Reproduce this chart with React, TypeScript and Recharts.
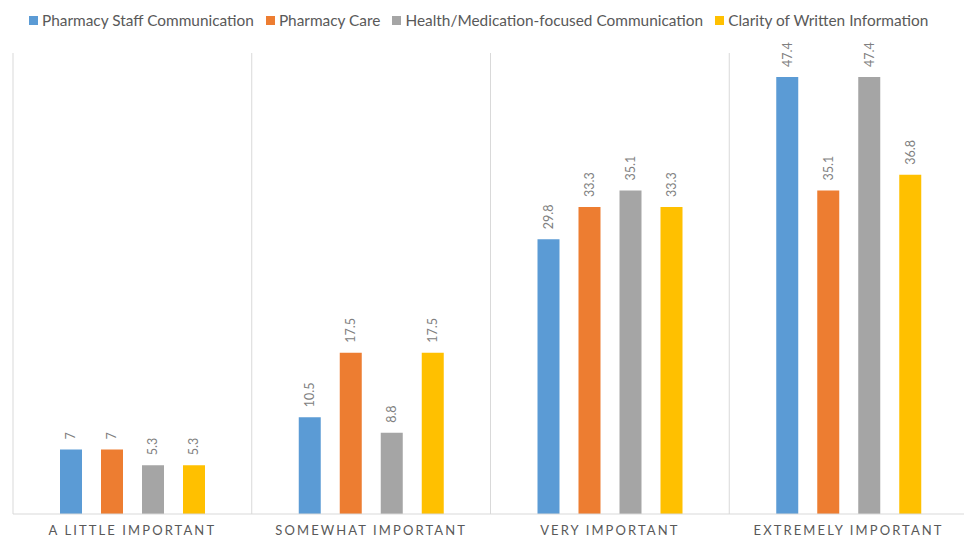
import React from "react";
import { BarChart, Bar, XAxis, YAxis, CartesianGrid, LabelList } from "recharts";

const categories = ["A LITTLE IMPORTANT", "SOMEWHAT IMPORTANT", "VERY IMPORTANT", "EXTREMELY IMPORTANT"];
const staffComm = [7, 10.5, 29.8, 47.4];
const pharmacyCare = [7, 17.5, 33.3, 35.1];
const healthMed = [5.3, 8.8, 35.1, 47.4];
const clarity = [5.3, 17.5, 33.3, 36.8];

const seriesNames = [
  "Pharmacy Staff Communication",
  "Pharmacy Care",
  "Health/Medication-focused Communication",
  "Clarity of Written Information",
];
const colors = ["#5B9BD5", "#ED7D31", "#A5A5A5", "#FFC000"];
const keys = ["s0", "s1", "s2", "s3"];

const data = categories.map((c, i) => ({
  category: c,
  s0: staffComm[i],
  s1: pharmacyCare[i],
  s2: healthMed[i],
  s3: clarity[i],
}));

const FONT = "Lato, 'Open Sans', sans-serif";

const renderLabel = (props: any) => {
  const { x, y, width, value } = props;
  const cx = Number(x) + Number(width) / 2;
  const cy = Number(y) - 10;
  return (
    <text
      x={cx}
      y={cy}
      transform={`rotate(-90, ${cx}, ${cy})`}
      textAnchor="start"
      dominantBaseline="central"
      fill="#808080"
      fontSize={12.5}
      fontFamily={FONT}
    >
      {value}
    </text>
  );
};

export default function App() {
  return (
    <div style={{ position: "absolute", left: 0, top: 0, width: 964, height: 537, overflow: "hidden", background: "#fff" }}>
      <div
        style={{
          position: "absolute",
          left: 29,
          top: 11,
          display: "flex",
          alignItems: "center",
          fontFamily: FONT,
          fontSize: 15.4,
          color: "#595959",
          whiteSpace: "nowrap",
        }}
      >
        {seriesNames.map((n, i) => (
          <div key={n} style={{ display: "flex", alignItems: "center", marginRight: 12 }}>
            <span style={{ display: "inline-block", width: 9, height: 9, background: colors[i], marginRight: 4 }} />
            <span>{n}</span>
          </div>
        ))}
      </div>
      <BarChart
        width={970}
        height={537}
        data={data}
        margin={{ top: 53, right: 2, left: 13, bottom: 0 }}
        barSize={22}
        barGap={19}
      >
        <CartesianGrid
          horizontal={false}
          stroke="#d9d9d9"
          verticalCoordinatesGenerator={({ offset }: any) =>
            [0, 1, 2, 3, 4].map((i) => offset.left + (i * offset.width) / 4)
          }
        />
        <YAxis hide domain={[0, 50]} />
        <XAxis
          dataKey="category"
          axisLine={{ stroke: "#d9d9d9" }}
          tickLine={false}
          tickSize={0}
          tickMargin={12}
          height={23}
          interval={0}
          tick={{ fill: "#595959", fontSize: 13, fontFamily: FONT, letterSpacing: 2.1 }}
        />
        {keys.map((k, i) => (
          <Bar key={k} dataKey={k} name={seriesNames[i]} fill={colors[i]} isAnimationActive={false}>
            <LabelList dataKey={k} content={renderLabel} />
          </Bar>
        ))}
      </BarChart>
    </div>
  );
}
